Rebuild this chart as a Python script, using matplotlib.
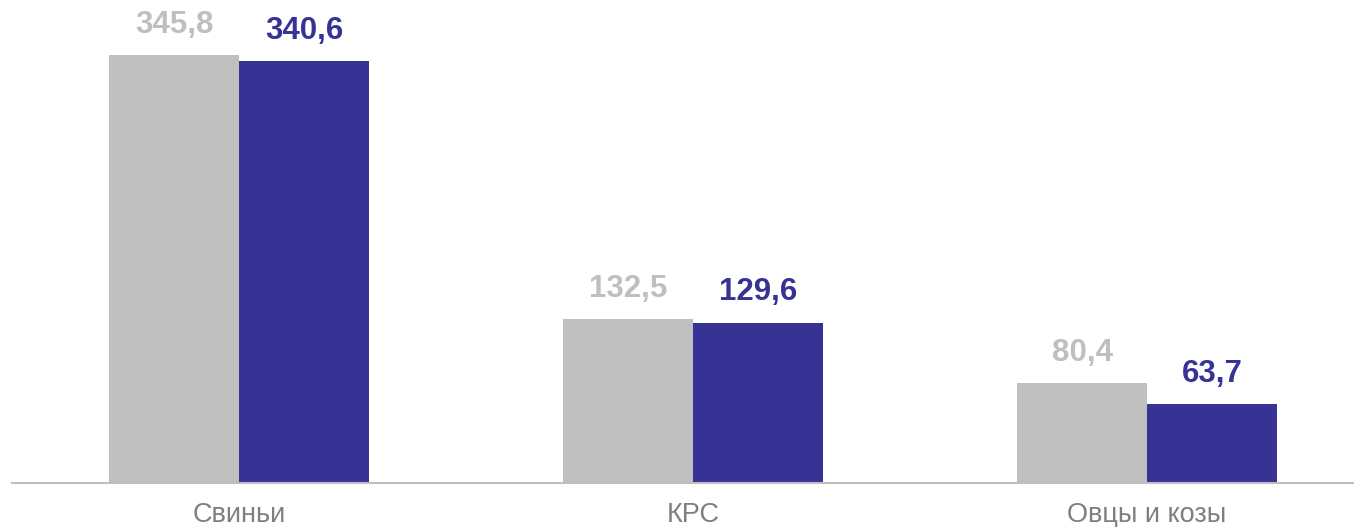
import numpy as np
import matplotlib.pyplot as plt

plt.rcParams['font.family'] = ['Liberation Sans', 'DejaVu Sans']

categories = ['Свиньи', 'КРС', 'Овцы и козы']
prev_values = [345.8, 132.5, 80.4]
curr_values = [340.6, 129.6, 63.7]

grey = '#bfbfbf'
blue = '#373395'

fig = plt.figure(figsize=(13.54, 5.27), dpi=100)
ax = fig.add_axes([12 / 1354, 44 / 527, 1342 / 1354, 483 / 527])

x = np.arange(len(categories))
w = 0.286

b1 = ax.bar(x - w / 2, prev_values, w, color=grey)
b2 = ax.bar(x + w / 2, curr_values, w, color=blue)

for bars, vals, col in [(b1, prev_values, grey), (b2, curr_values, blue)]:
    for rect, v in zip(bars, vals):
        ax.annotate(f'{v:.1f}'.replace('.', ','),
                    (rect.get_x() + rect.get_width() / 2, rect.get_height()),
                    xytext=(0, 11), textcoords='offset points',
                    ha='center', va='bottom', fontsize=22.5, fontweight='bold',
                    color=col, annotation_clip=False)

ax.set_xlim(-0.5, 2.456)
ax.set_ylim(0, 390.2)
ax.set_xticks(x)
ax.set_xticklabels(categories, fontsize=19.5, color='#7f7f7f')
ax.tick_params(axis='x', length=0, pad=14)
ax.set_yticks([])
for s in ['top', 'right', 'left']:
    ax.spines[s].set_visible(False)
ax.spines['bottom'].set_color('#bfbfbf')
ax.spines['bottom'].set_linewidth(1.5)

fig.savefig('out.png', dpi=100)
